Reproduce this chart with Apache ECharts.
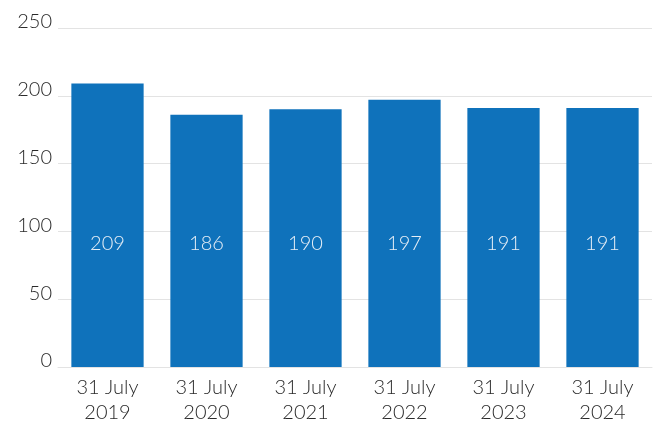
<!DOCTYPE html>
<html>
<head>
<meta charset="utf-8">
<script src="https://cdn.jsdelivr.net/npm/echarts@6/dist/echarts.min.js"></script>
<style>
  html, body { margin: 0; padding: 0; background: #fff; }
  #chart { width: 657px; height: 425px; }
</style>
</head>
<body>
<div id="chart"></div>
<script>
  // data
  const categories = ['31 July\n2019', '31 July\n2020', '31 July\n2021', '31 July\n2022', '31 July\n2023', '31 July\n2024'];
  const values = [209, 186, 190, 197, 191, 191];

  const font = 'Lato, "Noto Sans", sans-serif';
  const chart = echarts.init(document.getElementById('chart'));
  chart.setOption({
    animation: false,
    grid: { left: 58, right: 5, top: 28, bottom: 47 },
    xAxis: {
      type: 'category',
      data: categories,
      axisLine: { lineStyle: { color: '#e3e3e3', width: 1 } },
      axisTick: { show: false },
      axisLabel: {
        color: '#2a2a2a', fontSize: 20, fontFamily: font, fontWeight: 300,
        lineHeight: 25, margin: 8
      }
    },
    yAxis: {
      type: 'value',
      min: 0, max: 250, interval: 50,
      axisLine: { show: false },
      axisTick: { show: false },
      splitLine: { lineStyle: { color: '#e3e3e3', width: 1 } },
      axisLabel: {
        color: '#2a2a2a', fontSize: 20, fontFamily: font, fontWeight: 300, margin: 6,
        verticalAlign: 'bottom', lineHeight: 12
      }
    },
    series: [{
      type: 'bar',
      data: values,
      barWidth: '73%',
      itemStyle: { color: '#0f72bb' },
      label: {
        show: true, position: 'insideBottom', distance: 113,
        color: '#e6eef6', fontSize: 20, fontFamily: font, fontWeight: 300
      }
    }]
  });
</script>
</body>
</html>
